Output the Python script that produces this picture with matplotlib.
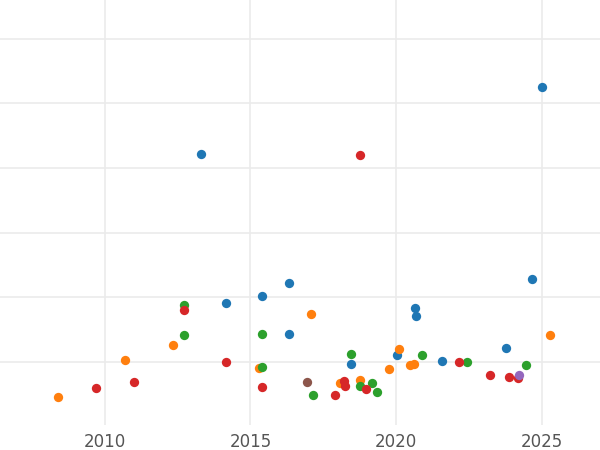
import matplotlib
matplotlib.use("Agg")
import matplotlib.pyplot as plt

blue_x = [2013.3, 2014.16, 2015.4, 2016.32, 2016.32, 2018.45, 2020.03, 2020.65, 2020.69, 2021.58, 2023.78, 2024.67, 2025.02]
blue_y = [4.22, 1.92, 2.02, 2.22, 1.43, 0.97, 1.11, 1.83, 1.72, 1.02, 1.22, 2.28, 5.26]
orange_x = [2008.38, 2010.69, 2012.34, 2015.29, 2017.08, 2018.08, 2018.76, 2019.76, 2020.1, 2020.48, 2020.62, 2025.29]
orange_y = [0.46, 1.03, 1.26, 0.91, 1.75, 0.68, 0.72, 0.89, 1.2, 0.95, 0.97, 1.42]
green_x = [2012.71, 2012.71, 2015.4, 2015.4, 2017.15, 2018.45, 2018.76, 2019.18, 2019.35, 2020.89, 2022.44, 2024.47]
green_y = [1.88, 1.42, 1.43, 0.92, 0.49, 1.12, 0.63, 0.68, 0.54, 1.11, 1.0, 0.95]
red_x = [2009.69, 2011.0, 2012.71, 2014.16, 2015.4, 2017.9, 2018.21, 2018.25, 2018.76, 2018.97, 2022.16, 2023.23, 2023.88, 2024.19]
red_y = [0.6, 0.69, 1.8, 1.0, 0.62, 0.49, 0.71, 0.63, 4.2, 0.58, 1.0, 0.8, 0.77, 0.75]
purple_x = [2024.23]
purple_y = [0.8]
brown_x = [2016.94]
brown_y = [0.69]

fig = plt.figure(figsize=(6, 4.5), dpi=100)
ax = fig.add_axes([0, 0.056, 1, 0.944])

series = [(blue_x, blue_y, "#1f77b4"), (orange_x, orange_y, "#ff7f0e"),
          (green_x, green_y, "#2ca02c"), (red_x, red_y, "#d62728"),
          (purple_x, purple_y, "#9467bd"), (brown_x, brown_y, "#8c564b")]
for xs, ys, c in series:
    ax.scatter(xs, ys, s=45, color=c, zorder=3, linewidths=0)

ax.set_xlim(2006.4, 2027.0)
ax.set_ylim(0.03, 6.6)
ax.set_xticks([2010, 2015, 2020, 2025])
ax.set_yticks([1, 2, 3, 4, 5, 6])
ax.grid(True, color="#ebebeb", linewidth=1.2)
ax.set_axisbelow(True)
for s in ax.spines.values():
    s.set_visible(False)
ax.tick_params(axis="x", length=0, labelsize=12, labelcolor="#555555", pad=6)
ax.tick_params(axis="y", length=0, labelleft=False)

fig.savefig("out.png")
